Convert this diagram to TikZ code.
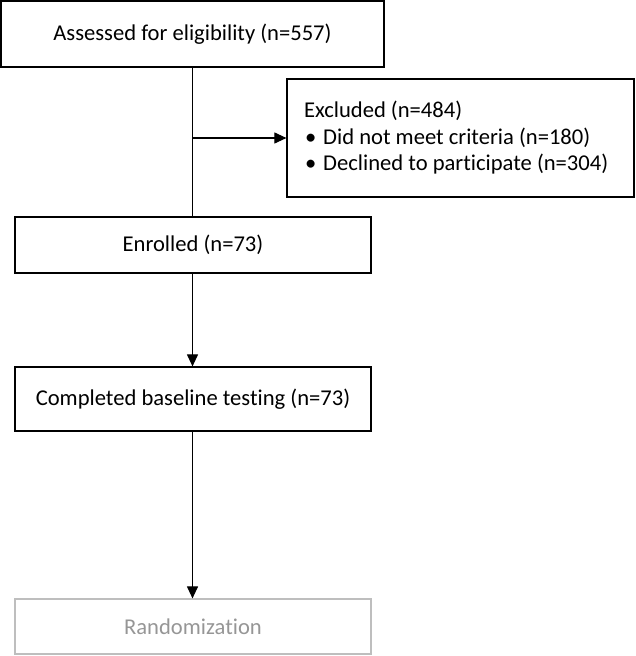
\documentclass[tikz,border=0pt]{standalone}
\usepackage{fontspec}
\setmainfont{Carlito}[Ligatures=NoCommon]
\usetikzlibrary{arrows.meta,calc}
\definecolor{lightgr}{RGB}{190,190,190}
\definecolor{textgr}{RGB}{150,150,150}
\newcommand{\exline}[1]{\makebox[313pt][l]{#1}}
\tikzset{
  box/.style={draw=black, line width=1.2pt, inner sep=0pt, font=\fontsize{22.6}{27}\selectfont},
  graybox/.style={box, draw=lightgr, text=textgr},
  conn/.style={line width=1.1pt, -{Triangle[length=12pt,width=11pt]}},
  plain/.style={line width=1.1pt}
}
\begin{document}
\begin{tikzpicture}[x=1pt,y=-1pt]
\useasboundingbox (0,0) rectangle (635,656);
\node[box, minimum width=383pt, minimum height=66pt] (assess) at (192.5,34) {Assessed for eligibility (n=557)};
\node[box, minimum width=347pt, minimum height=118pt, align=left, inner xsep=17pt] (excl) at (460.5,138)
  {\exline{Excluded (n=484)}\\[-0.5pt]
   \exline{\hspace*{1pt}\textbullet\hspace{7pt}Did not meet criteria (n=180)}\\[-0.5pt]
   \exline{\hspace*{1pt}\textbullet\hspace{7pt}Declined to participate (n=304)}};
\node[box, minimum width=356pt, minimum height=56pt] (enrol) at (193,245) {Enrolled (n=73)};
\node[box, minimum width=356pt, minimum height=64pt] (base) at (193,399) {Completed baseline testing (n=73)};
\node[graybox, minimum width=356pt, minimum height=55pt] (rand) at (193,626.5) {Randomization};
\coordinate (split) at (assess.south |- excl.west);
\draw[plain] (assess.south) -- (assess.south |- enrol.north);
\draw[conn] (split) -- (excl.west);
\draw[conn] (enrol.south -| assess.south) -- (base.north -| assess.south);
\draw[conn] (base.south -| assess.south) -- (rand.north -| assess.south);
\end{tikzpicture}
\end{document}
